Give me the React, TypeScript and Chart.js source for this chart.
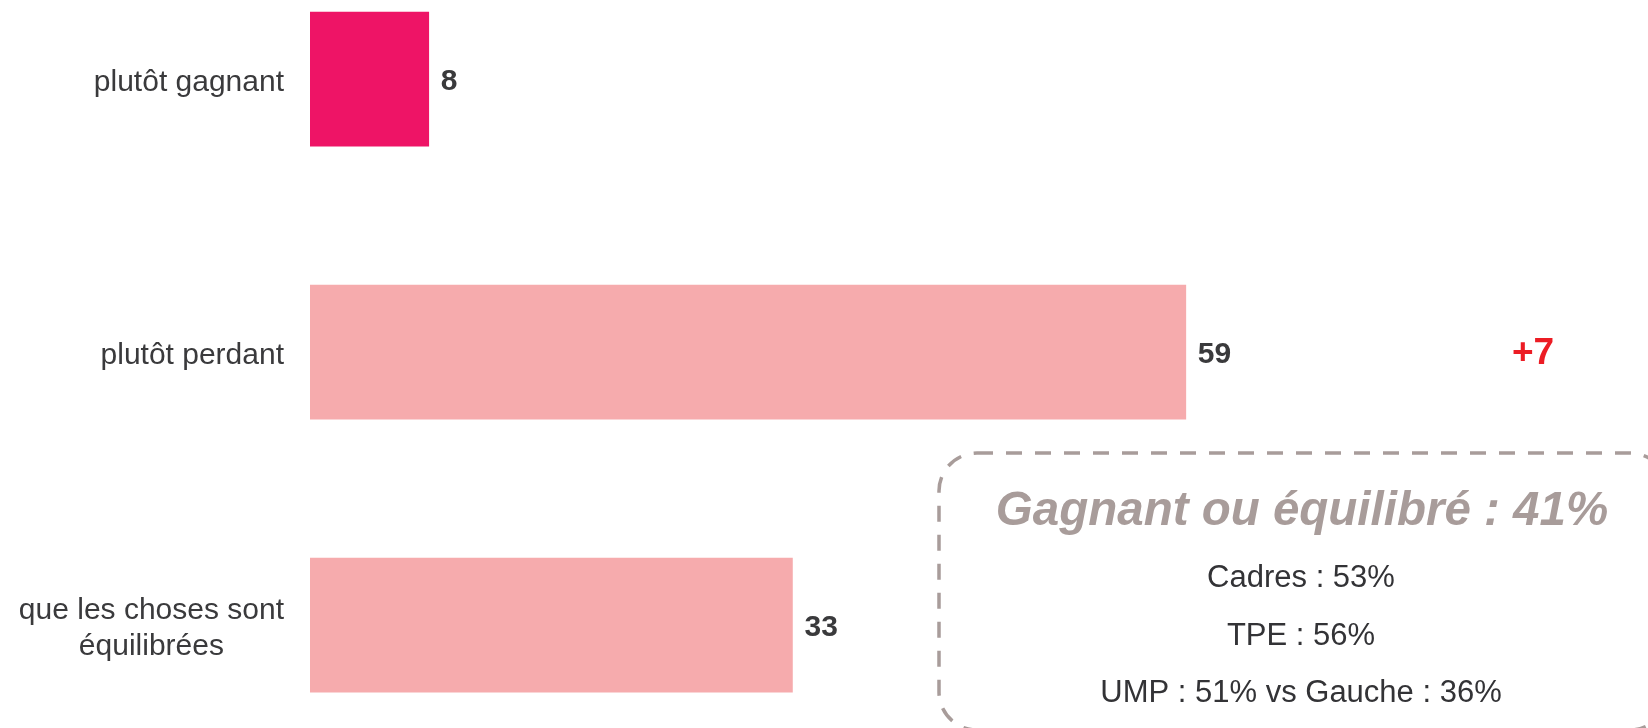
import React, { useEffect, useRef } from "react";
import { Chart, registerables } from "chart.js";

Chart.register(...registerables);

// ---- data ----
const categories: string[][] = [
  ["plutôt gagnant"],
  ["plutôt perdant"],
  ["que les choses sont", "équilibrées"],
];
const values: number[] = [8, 59, 32.5];
const valueLabels: string[] = ["8", "59", "33"];
const barColors: string[] = ["#ee1466", "#f6abad", "#f6abad"];
const changeLabels: string[] = ["", "+7", ""];
const boxTitle = "Gagnant ou équilibré : 41%";
const boxLines: string[] = ["Cadres : 53%", "TPE : 56%", "UMP : 51% vs Gauche : 36%"];

const FONT = "'Liberation Sans', Arial, Helvetica, sans-serif";

const annotatePlugin = {
  id: "annotate",
  afterDatasetsDraw(chart: any) {
    const ctx: CanvasRenderingContext2D = chart.ctx;
    const xs = chart.scales.x;
    const ys = chart.scales.y;
    const area = chart.chartArea;
    ctx.save();

    // category labels (right-aligned block, lines centred within it)
    ctx.font = `30px ${FONT}`;
    ctx.fillStyle = "#3a3a3c";
    ctx.textAlign = "center";
    ctx.textBaseline = "middle";
    const lineH = 36.5;
    categories.forEach((lines, i) => {
      const cy = ys.getPixelForValue(i);
      const maxW = Math.max(...lines.map((l) => ctx.measureText(l).width));
      const cx = area.left - 26 - maxW / 2;
      lines.forEach((l, j) => {
        ctx.fillText(l, cx, cy + 3.5 + (j - (lines.length - 1) / 2) * lineH);
      });
    });

    // value labels
    values.forEach((v, i) => {
      const y = ys.getPixelForValue(i);
      ctx.font = `bold 30px ${FONT}`;
      ctx.fillStyle = "#3a3a3c";
      ctx.textAlign = "left";
      ctx.textBaseline = "middle";
      ctx.fillText(valueLabels[i], xs.getPixelForValue(v) + 12, y + 2.5);
      if (changeLabels[i]) {
        ctx.font = `bold 37px ${FONT}`;
        ctx.fillStyle = "#ec1c24";
        ctx.textAlign = "center";
        ctx.fillText(changeLabels[i], area.right - 113, y + 1.5);
      }
    });

    // dashed rounded box
    ctx.setLineDash([16, 13]);
    ctx.lineWidth = 3.5;
    ctx.strokeStyle = "#a89c9a";
    ctx.beginPath();
    (ctx as any).roundRect(939, 453, 729, 277, 38);
    ctx.stroke();
    ctx.setLineDash([]);

    // box texts
    ctx.textAlign = "center";
    ctx.textBaseline = "alphabetic";
    ctx.font = `italic bold 47.5px ${FONT}`;
    ctx.fillStyle = "#a89c9a";
    ctx.fillText(boxTitle, 1302, 525);
    ctx.font = `31px ${FONT}`;
    ctx.fillStyle = "#333336";
    boxLines.forEach((t, k) => {
      ctx.fillText(t, 1301, 587 + k * 57.5);
    });

    ctx.restore();
  },
};

export default function App() {
  const ref = useRef<HTMLCanvasElement | null>(null);

  useEffect(() => {
    if (!ref.current) return;
    const chart = new Chart(ref.current, {
      type: "bar",
      data: {
        datasets: [
          {
            data: values.map((v, i) => ({ x: v, y: i })) as any,
            backgroundColor: barColors,
            borderWidth: 0,
            barThickness: 134,
          },
        ],
      },
      options: {
        indexAxis: "y",
        responsive: false,
        animation: false,
        devicePixelRatio: 1,
        layout: { padding: { left: 310, right: 2, top: 0, bottom: 0 } },
        scales: {
          x: { type: "linear", min: 0, max: 90, display: false, offset: false },
          y: { type: "linear", min: -0.29, max: 2.377, reverse: true, display: false, offset: false },
        },
        plugins: {
          legend: { display: false },
          tooltip: { enabled: false },
        },
      },
      plugins: [annotatePlugin],
    });
    return () => chart.destroy();
  }, []);

  return (
    <div style={{ position: "absolute", left: 0, top: 0, width: 1648, height: 728, background: "#fff" }}>
      <canvas ref={ref} width={1648} height={728} />
    </div>
  );
}
